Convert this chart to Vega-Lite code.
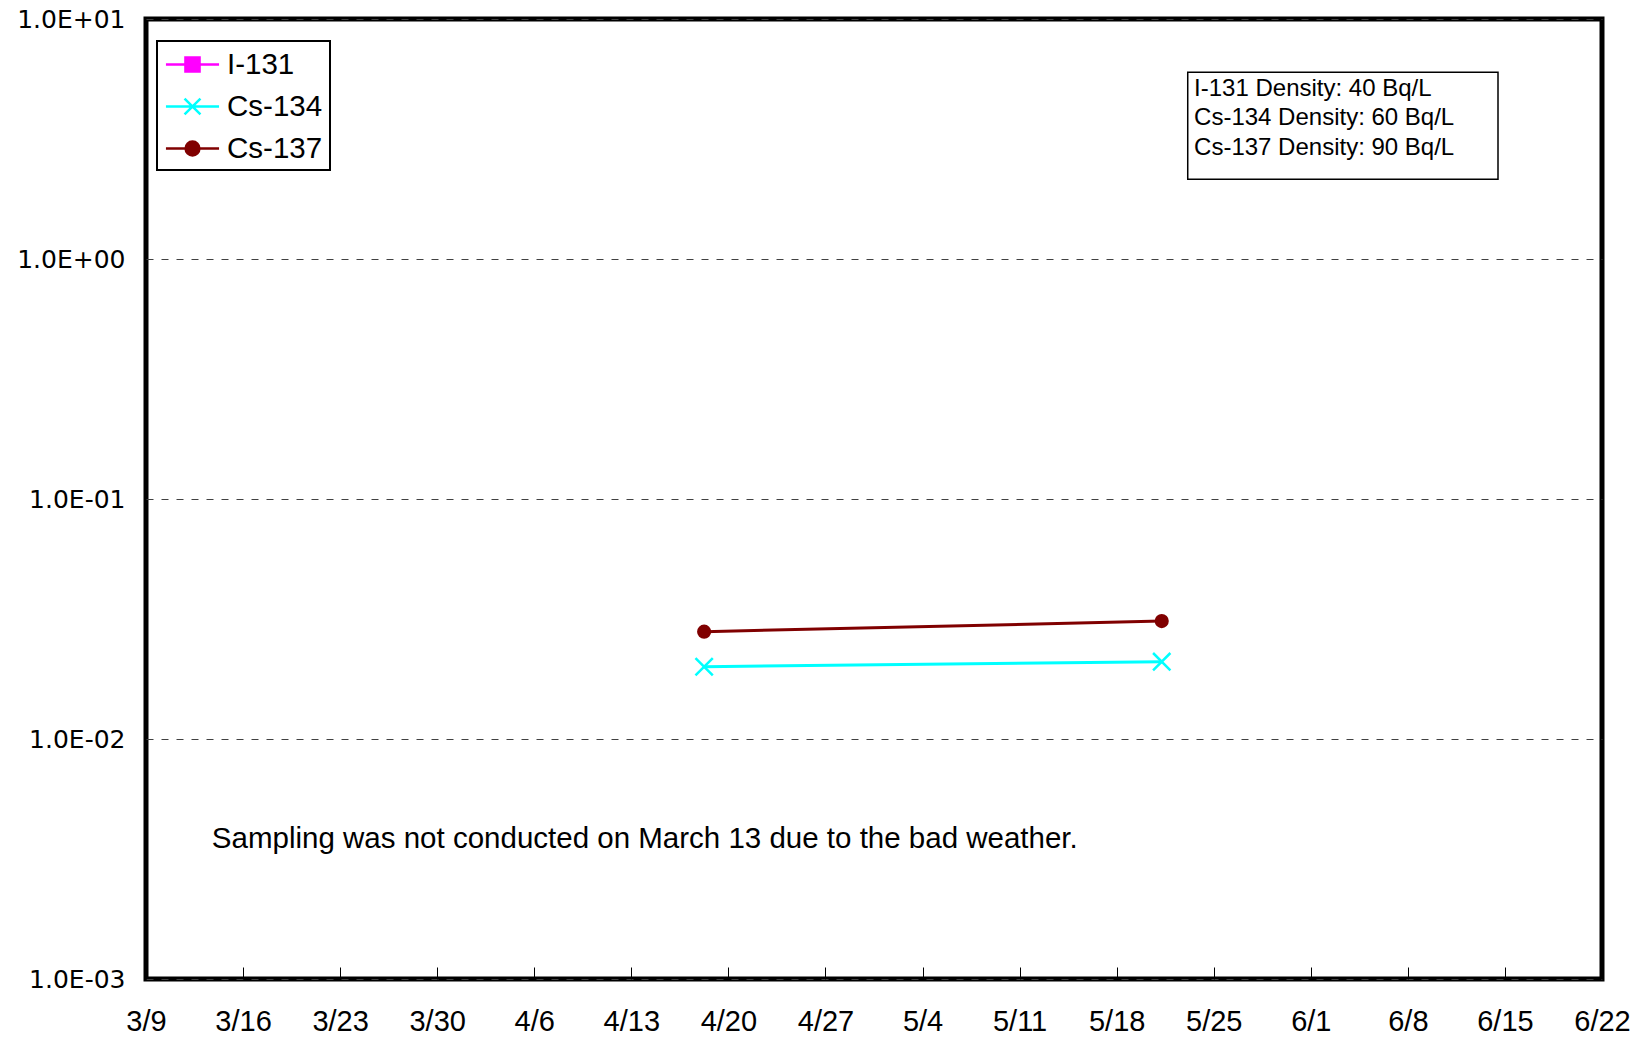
{
  "$schema": "https://vega.github.io/schema/vega-lite/v6.json",
  "autosize": {"type": "none"},
  "padding": {"left": 146, "top": 19, "right": 34, "bottom": 61},
  "width": 1456,
  "height": 960,
  "background": "white",
  "config": {
    "view": {"stroke": "black", "strokeWidth": 5},
    "font": "Liberation Sans"
  },
  "data": {
    "values": [
      {"date": "2011-04-18T06:00:00", "series": "Cs-134", "value": 0.020},
      {"date": "2011-05-21T06:00:00", "series": "Cs-134", "value": 0.021},
      {"date": "2011-04-18T06:00:00", "series": "Cs-137", "value": 0.028},
      {"date": "2011-05-21T06:00:00", "series": "Cs-137", "value": 0.031}
    ]
  },
  "layer": [
    {
      "mark": {"type": "line", "strokeWidth": 3},
      "encoding": {
        "x": {
          "field": "date",
          "type": "temporal",
          "title": null,
          "scale": {"domain": [{"year": 2011, "month": 3, "date": 9}, {"year": 2011, "month": 6, "date": 22}], "nice": false},
          "axis": {
            "values": [
              {"year": 2011, "month": 3, "date": 9},
              {"year": 2011, "month": 3, "date": 16},
              {"year": 2011, "month": 3, "date": 23},
              {"year": 2011, "month": 3, "date": 30},
              {"year": 2011, "month": 4, "date": 6},
              {"year": 2011, "month": 4, "date": 13},
              {"year": 2011, "month": 4, "date": 20},
              {"year": 2011, "month": 4, "date": 27},
              {"year": 2011, "month": 5, "date": 4},
              {"year": 2011, "month": 5, "date": 11},
              {"year": 2011, "month": 5, "date": 18},
              {"year": 2011, "month": 5, "date": 25},
              {"year": 2011, "month": 6, "date": 1},
              {"year": 2011, "month": 6, "date": 8},
              {"year": 2011, "month": 6, "date": 15},
              {"year": 2011, "month": 6, "date": 22}
            ],
            "format": "%-m/%-d",
            "grid": false,
            "domain": false,
            "ticks": true,
            "tickSize": -12,
            "tickColor": "black",
            "tickWidth": 1,
            "labelFont": "Liberation Sans",
            "labelFontSize": 29,
            "labelColor": "black",
            "labelPadding": 40,
            "labelBaseline": "top",
            "labelOverlap": false,
            "labelFlush": false
          }
        },
        "y": {
          "field": "value",
          "type": "quantitative",
          "title": null,
          "scale": {"type": "log", "domain": [0.001, 10], "nice": false},
          "axis": {
            "values": [0.001, 0.01, 0.1, 1, 10],
            "labelExpr": "'1.0E' + (round(log(datum.value)/LN10) < 0 ? '-' : '+') + (abs(round(log(datum.value)/LN10)) < 10 ? '0' : '') + abs(round(log(datum.value)/LN10))",
            "grid": true,
            "gridColor": "#404040",
            "gridDash": [7, 8],
            "gridWidth": 1,
            "domain": false,
            "ticks": false,
            "labelFont": "DejaVu Sans",
            "labelFontSize": 25,
            "labelColor": "black",
            "labelPadding": 21,
            "labelOverlap": false,
            "labelFlush": false
          }
        },
        "color": {
          "field": "series",
          "type": "nominal",
          "scale": {"domain": ["I-131", "Cs-134", "Cs-137"], "range": ["#FF00FF", "#00FFFF", "#800000"]},
          "legend": {
            "orient": "none",
            "legendX": 11,
            "legendY": 22,
            "title": null,
            "strokeColor": "black",
            "fillColor": "white",
            "padding": 7,
            "labelFont": "Liberation Sans",
            "labelFontSize": 29.5,
            "labelColor": "black",
            "symbolSize": 900,
            "symbolOffset": 12,
            "labelOffset": 18,
            "symbolStrokeWidth": 2.5,
            "rowPadding": 11,
            "encode": {
              "legend": {"update": {"strokeWidth": {"value": 2}}},
              "symbols": {
                "update": {
                  "shape": {"signal": "datum.value === 'I-131' ? 'M-1.77,0H1.77M-0.47,-0.47H0.47V0.47H-0.47Z' : datum.value === 'Cs-134' ? 'M-1.77,0H1.77M-0.53,-0.53L0.53,0.53M-0.53,0.53L0.53,-0.53' : 'M-1.77,0H1.77M-0.46,0A0.46,0.46 0 1,1 0.46,0A0.46,0.46 0 1,1 -0.46,0Z'"},
                  "fill": {"signal": "scale('color', datum.value)"},
                  "stroke": {"signal": "scale('color', datum.value)"},
                  "strokeWidth": {"value": 2.5},
                  "opacity": {"value": 1},
                  "fillOpacity": {"value": 1}
                }
              }
            }
          }
        }
      }
    },
    {
      "transform": [{"filter": "datum.series === 'Cs-134'"}],
      "mark": {"type": "point", "filled": false, "shape": "M-1,-1L1,1M-1,1L1,-1", "size": 300, "stroke": "#00FFFF", "strokeWidth": 2.5, "opacity": 1},
      "encoding": {
        "x": {"field": "date", "type": "temporal"},
        "y": {"field": "value", "type": "quantitative"}
      }
    },
    {
      "transform": [{"filter": "datum.series === 'Cs-137'"}],
      "mark": {"type": "point", "filled": true, "shape": "circle", "size": 200, "fill": "#800000", "opacity": 1},
      "encoding": {
        "x": {"field": "date", "type": "temporal"},
        "y": {"field": "value", "type": "quantitative"}
      }
    },
    {
      "data": {"values": [{}]},
      "mark": {"type": "rect", "fill": "white", "stroke": "black", "strokeWidth": 1.5},
      "encoding": {
        "x": {"datum": {"year": 2011, "month": 5, "date": 23, "hours": 3}, "type": "temporal"},
        "x2": {"datum": {"year": 2011, "month": 6, "date": 14, "hours": 12}},
        "y": {"datum": 6.0, "type": "quantitative"},
        "y2": {"datum": 2.15}
      }
    },
    {
      "data": {"values": [{}]},
      "mark": {"type": "text", "align": "left", "baseline": "top", "font": "Liberation Sans", "fontSize": 24, "lineHeight": 29.5, "color": "black",
        "text": ["I-131 Density: 40 Bq/L", "Cs-134 Density: 60 Bq/L", "Cs-137 Density: 90 Bq/L"]},
      "encoding": {
        "x": {"datum": {"year": 2011, "month": 5, "date": 23, "hours": 14}, "type": "temporal"},
        "y": {"datum": 5.74, "type": "quantitative"}
      }
    },
    {
      "data": {"values": [{}]},
      "mark": {"type": "text", "align": "left", "baseline": "middle", "font": "Liberation Sans", "fontSize": 29.5, "color": "black",
        "text": "Sampling was not conducted on March 13 due to the bad weather."},
      "encoding": {
        "x": {"datum": {"year": 2011, "month": 3, "date": 13, "hours": 18}, "type": "temporal"},
        "y": {"datum": 0.00383, "type": "quantitative"}
      }
    }
  ]
}
